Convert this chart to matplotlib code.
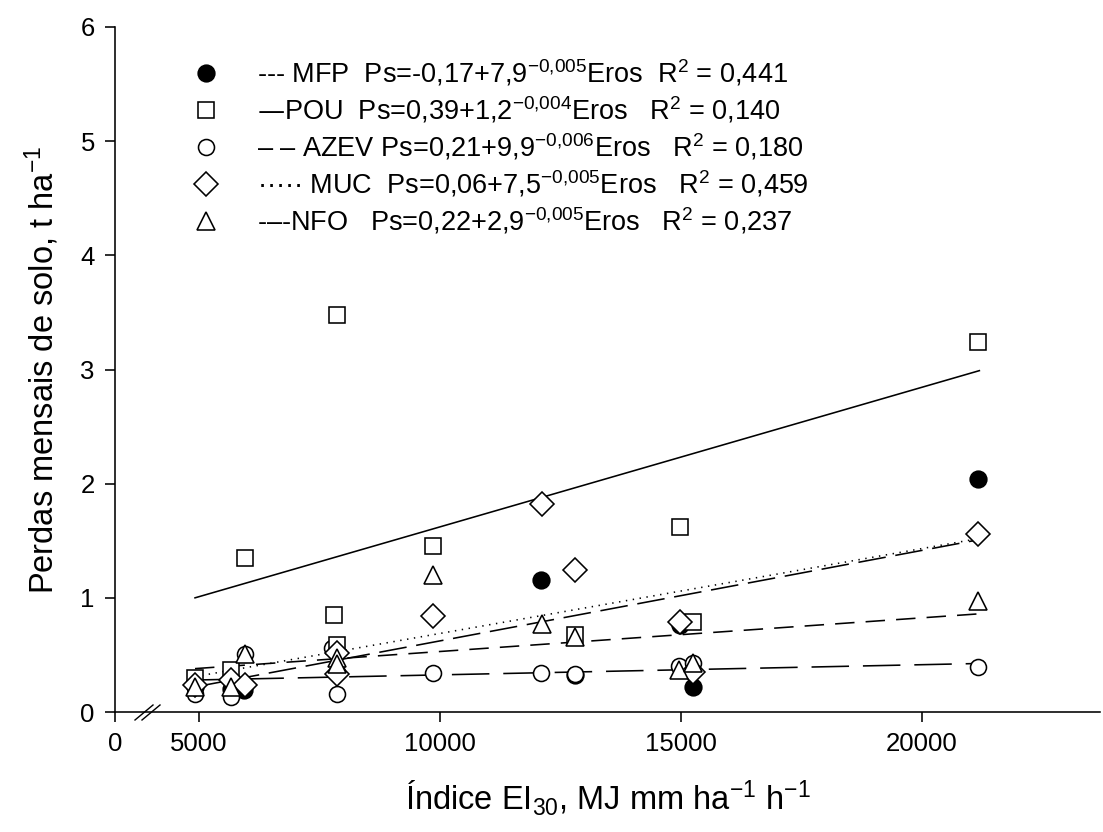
import matplotlib
matplotlib.use("Agg")
import matplotlib.pyplot as plt

plt.rcParams['font.family'] = ['Liberation Sans', 'DejaVu Sans']
plt.rcParams['mathtext.default'] = 'regular'
plt.rcParams['lines.scale_dashes'] = False

# ---------------- data ----------------
mfp_x = [4917, 5657, 5940, 12100, 12800, 14979, 15249, 21170]
mfp_y = [0.22, 0.20, 0.19, 1.16, 0.325, 0.76, 0.22, 2.04]

azev_x = [4917, 5657, 5950, 7760, 7857, 7857, 9850, 12100, 12800, 14960, 15250, 21170]
azev_y = [0.16, 0.134, 0.51, 0.56, 0.35, 0.16, 0.345, 0.34, 0.333, 0.40, 0.43, 0.39]

pou_x = [4917, 5657, 5950, 7810, 7857, 7857, 9860, 12800, 14979, 15249, 21170]
pou_y = [0.30, 0.37, 1.35, 0.85, 0.59, 3.48, 1.45, 0.675, 1.617, 0.79, 3.24]

muc_x = [4917, 5657, 5960, 7857, 7857, 9850, 12110, 12800, 14979, 15249, 21170]
muc_y = [0.24, 0.28, 0.24, 0.52, 0.33, 0.84, 1.82, 1.245, 0.79, 0.35, 1.56]

nfo_x = [4917, 5657, 5950, 7857, 7857, 9850, 12110, 12800, 14950, 15250, 21170]
nfo_y = [0.22, 0.22, 0.51, 0.47, 0.42, 1.20, 0.77, 0.66, 0.37, 0.43, 0.97]

fit_x = [4917, 21190]
mfp_fit = [0.22, 1.51]
pou_fit = [1.00, 2.99]
azev_fit = [0.28, 0.425]
muc_fit = [0.31, 1.52]
nfo_fit = [0.38, 0.86]

x_ticks = [3257, 5000, 10000, 15000, 20000]
x_ticklabels = ['0', '5000', '10000', '15000', '20000']
y_ticks = [0, 1, 2, 3, 4, 5, 6]

legend_labels = [
    "--- MFP  Ps=-0,17+7,9$^{-0{,}005}$Eros  R$^2$ = 0,441",
    "\u2014POU  Ps=0,39+1,2$^{-0{,}004}$Eros   R$^2$ = 0,140",
    "\u2012 \u2012 AZEV Ps=0,21+9,9$^{-0{,}006}$Eros   R$^2$ = 0,180",
    "\u00b7\u00b7\u00b7\u00b7\u00b7 MUC  Ps=0,06+7,5$^{-0{,}005}$Eros   R$^2$ = 0,459",
    "-\u2012-NFO   Ps=0,22+2,9$^{-0{,}005}$Eros   R$^2$ = 0,237",
]

# ---------------- figure ----------------
W, H = 1103, 832
fig = plt.figure(figsize=(W / 100, H / 100), dpi=100)
L, B, R, T = 115, 712, 1100, 27
ax = fig.add_axes([L / W, (H - B) / H, (R - L) / W, (B - T) / H])

lw = 1.15
mew = 1.15
k = 'black'

# fit lines
ax.plot(fit_x, pou_fit, color=k, lw=lw, ls='-', zorder=2)
ax.plot(fit_x, muc_fit, color=k, lw=lw, ls=(0, (1.0, 4.0)), zorder=2)
ax.plot(fit_x, mfp_fit, color=k, lw=lw, ls=(0, (20, 7)), zorder=2)
ax.plot(fit_x, nfo_fit, color=k, lw=lw, ls=(0, (14, 8)), zorder=2)
ax.plot(fit_x, azev_fit, color=k, lw=lw, ls=(0, (27, 10)), zorder=2)

# points
ax.plot(mfp_x, mfp_y, ls='none', marker='o', ms=12, mfc=k, mec=k, mew=mew, zorder=3)
ax.plot(azev_x, azev_y, ls='none', marker='o', ms=11.5, mfc='white', mec=k, mew=mew, zorder=4)
ax.plot(pou_x, pou_y, ls='none', marker='s', ms=11.5, mfc='white', mec=k, mew=mew, zorder=5)
ax.plot(muc_x, muc_y, ls='none', marker='D', ms=12, mfc='white', mec=k, mew=mew, zorder=6)
ax.plot(nfo_x, nfo_y, ls='none', marker='^', ms=13, mfc='white', mec=k, mew=mew, zorder=7)

ax.set_xlim(x_ticks[0], 23693)
ax.set_ylim(0, 6)
ax.set_xticks(x_ticks)
ax.set_xticklabels(x_ticklabels)
ax.set_yticks(y_ticks)

for s in ['top', 'right']:
    ax.spines[s].set_visible(False)
for s in ['left', 'bottom']:
    ax.spines[s].set_linewidth(1.15)
ax.tick_params(axis='both', direction='out', length=7.5, width=1.15, labelsize=18.5, pad=7)

ax.set_xlabel("Índice EI$_{30}$, MJ mm ha$^{-1}$ h$^{-1}$", fontsize=23.5, labelpad=16)
ax.set_ylabel("Perdas mensais de solo, t ha$^{-1}$", fontsize=23.5, labelpad=14)

# axis break marks
def px2ax(px, py):
    return (px - L) / (R - L), (B - py) / (B - T)

for x0 in (135, 142):
    p0 = px2ax(x0, 720)
    p1 = px2ax(x0 + 18, 705)
    ax.plot([p0[0], p1[0]], [p0[1], p1[1]], color=k, lw=1.0,
            transform=ax.transAxes, clip_on=False, zorder=10)

# legend (manual)
markers = [('o', k, 12), ('s', 'white', 11.5), ('o', 'white', 11.5),
           ('D', 'white', 12), ('^', 'white', 13)]
for i, (lab, (m, fc, ms)) in enumerate(zip(legend_labels, markers)):
    py = 73 + 37 * i
    mx, my = px2ax(206, py)
    tx, _ = px2ax(257, py)
    ax.plot([mx], [my], marker=m, ms=ms, mfc=fc, mec=k, mew=mew,
            transform=ax.transAxes, clip_on=False, ls='none')
    ax.text(tx, my, lab, transform=ax.transAxes, fontsize=19.5,
            va='center', ha='left')

fig.savefig("out.png", dpi=100)
